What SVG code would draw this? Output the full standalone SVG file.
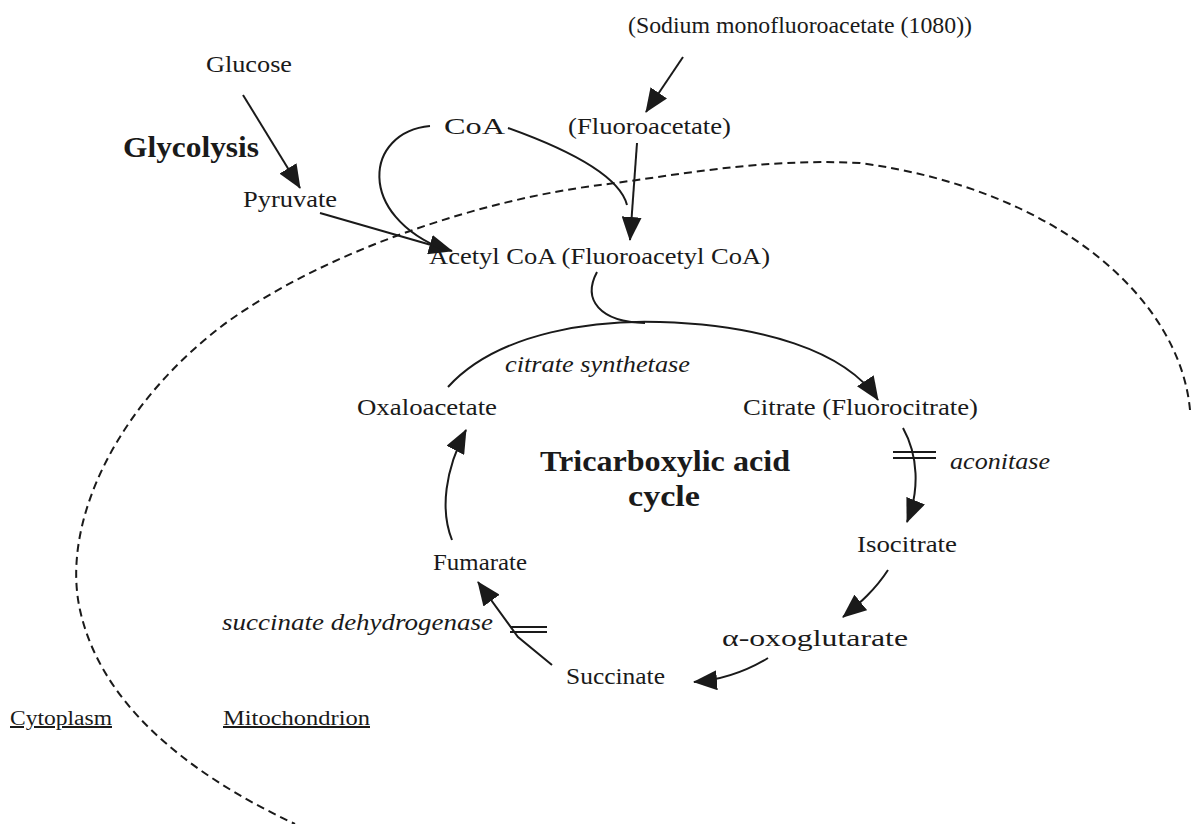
<svg xmlns="http://www.w3.org/2000/svg" width="1193" height="824" viewBox="0 0 1193 824">
<style>
text{font-family:"Liberation Serif","Times New Roman",serif;font-size:24px;fill:#1a1a1a}
.b{font-weight:bold;font-size:29px}
.i{font-style:italic}
.u{text-decoration:underline;font-size:20px}
.c{fill:none;stroke:#1a1a1a;stroke-width:2}
.d{fill:none;stroke:#1a1a1a;stroke-width:2;stroke-dasharray:8 5}
</style>
<defs>
<marker id="ah" viewBox="0 0 24 20" refX="23" refY="10" markerWidth="24" markerHeight="20" markerUnits="userSpaceOnUse" orient="auto">
<path d="M0,0 L24,10 L0,20 z" fill="#1a1a1a"/>
</marker>
</defs>
<rect width="1193" height="824" fill="#fff"/>
<g id="membrane">
<path class="d" d="M 1190 410 C 1180 300, 1060 190, 860 163 C 760 158, 680 175, 600 185 C 480 200, 330 250, 230 320 C 120 400, 60 520, 80 610 C 100 700, 180 770, 295 824"/>
</g>
<g id="connectors">
<path class="c" d="M 683 57 L 646 112" marker-end="url(#ah)"/>
<path class="c" d="M 243 95 L 300 188" marker-end="url(#ah)"/>
<path class="c" d="M 320 213 L 452 251" marker-end="url(#ah)"/>
<path class="c" d="M 430 126 C 365 132, 355 215, 445 250"/>
<path class="c" d="M 508 128 C 575 152, 620 178, 627 205"/>
<path class="c" d="M 637 143 L 630 240" marker-end="url(#ah)"/>
<path class="c" d="M 597 272 C 582 300, 600 322, 645 323"/>
<path class="c" d="M 448 387 C 500 330, 600 320, 660 322 C 760 325, 845 350, 878 400" marker-end="url(#ah)"/>
<path class="c" d="M 903 428 C 918 455, 920 490, 907 522" marker-end="url(#ah)"/>
<path class="c" d="M 893 452 H 936 M 893 458 H 936"/>
<path class="c" d="M 888 570 C 875 590, 860 603, 843 617" marker-end="url(#ah)"/>
<path class="c" d="M 768 658 C 745 672, 720 680, 694 682" marker-end="url(#ah)"/>
<path class="c" d="M 552 665 L 518 637 L 478 582" marker-end="url(#ah)"/>
<path class="c" d="M 510 627 H 547 M 510 632 H 547"/>
<path class="c" d="M 452 540 C 440 510, 445 470, 466 430" marker-end="url(#ah)"/>
</g>
<g id="sodium"><text x="628" y="33" textLength="344" lengthAdjust="spacingAndGlyphs">(Sodium monofluoroacetate (1080))</text></g>
<g id="glucose"><text x="206" y="72" textLength="86" lengthAdjust="spacingAndGlyphs">Glucose</text></g>
<g id="glycolysis"><text class="b" x="123" y="157" textLength="136" lengthAdjust="spacingAndGlyphs">Glycolysis</text></g>
<g id="coa"><text x="444" y="134" textLength="61" lengthAdjust="spacingAndGlyphs">CoA</text></g>
<g id="fluoroacetate"><text x="568" y="134" textLength="163" lengthAdjust="spacingAndGlyphs">(Fluoroacetate)</text></g>
<g id="pyruvate"><text x="243" y="207" textLength="94" lengthAdjust="spacingAndGlyphs">Pyruvate</text></g>
<g id="acetylcoa"><text x="429" y="264" textLength="341" lengthAdjust="spacingAndGlyphs">Acetyl CoA (Fluoroacetyl CoA)</text></g>
<g id="citrate-synthetase"><text class="i" x="505" y="372" textLength="185" lengthAdjust="spacingAndGlyphs">citrate synthetase</text></g>
<g id="oxaloacetate"><text x="357" y="415" textLength="140" lengthAdjust="spacingAndGlyphs">Oxaloacetate</text></g>
<g id="citrate"><text x="743" y="415" textLength="235" lengthAdjust="spacingAndGlyphs">Citrate (Fluorocitrate)</text></g>
<g id="tca"><text class="b" x="540" y="471" textLength="250" lengthAdjust="spacingAndGlyphs">Tricarboxylic acid</text><text class="b" x="628" y="506" textLength="72" lengthAdjust="spacingAndGlyphs">cycle</text></g>
<g id="aconitase"><text class="i" x="950" y="469" textLength="100" lengthAdjust="spacingAndGlyphs">aconitase</text></g>
<g id="isocitrate"><text x="857" y="552" textLength="100" lengthAdjust="spacingAndGlyphs">Isocitrate</text></g>
<g id="fumarate"><text x="433" y="570" textLength="94" lengthAdjust="spacingAndGlyphs">Fumarate</text></g>
<g id="sdh"><text class="i" x="222" y="630" textLength="271" lengthAdjust="spacingAndGlyphs">succinate dehydrogenase</text></g>
<g id="oxoglutarate"><text x="722" y="646" textLength="186" lengthAdjust="spacingAndGlyphs">α-oxoglutarate</text></g>
<g id="succinate"><text x="566" y="684" textLength="99" lengthAdjust="spacingAndGlyphs">Succinate</text></g>
<g id="cytoplasm"><text class="u" x="10" y="725" textLength="102" lengthAdjust="spacingAndGlyphs">Cytoplasm</text></g>
<g id="mitochondrion"><text class="u" x="223" y="725" textLength="147" lengthAdjust="spacingAndGlyphs">Mitochondrion</text></g>
</svg>
